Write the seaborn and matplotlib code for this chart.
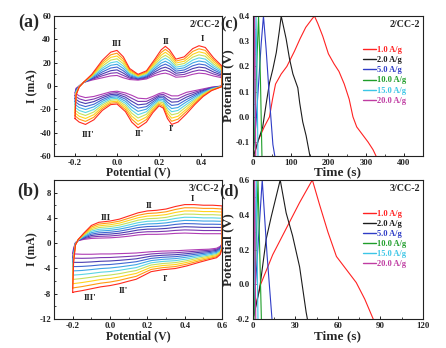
import matplotlib
matplotlib.use("Agg")
import matplotlib.pyplot as plt
from matplotlib.ticker import MultipleLocator, AutoMinorLocator
import numpy as np
import pandas as pd
import seaborn as sns

# ---------------------------------------------------------------------------
# CV data, panel (a) 2/CC-2 : 10 scan rates, inner (purple) -> outer (red)
# ---------------------------------------------------------------------------
a_E_fwd = [-0.2, -0.195, -0.18, -0.16, -0.12, -0.07, -0.03, 0.0, 0.03, 0.06, 0.1,
           0.14, 0.18, 0.21, 0.23, 0.25, 0.28, 0.32, 0.36, 0.39, 0.42, 0.46, 0.5]
a_I_fwd = [
    [-6, -2, 0, 3, 5, 7, 8.6, 9, 7, 5.5, 5, 6, 9, 10.5, 11, 10, 7.5, 8, 10, 11, 10.5, 8.5, 7],
    [-8.4, -2.7, -0.1, 3, 5.6, 8.7, 10.9, 11.4, 9, 6.6, 5.6, 6.8, 10.6, 12.8, 13.6, 12.3, 9.2, 9.9, 12.4, 13.6, 13, 10.2, 8.1],
    [-10.9, -3.3, -0.2, 3, 6.1, 10.3, 13.1, 13.8, 11, 7.6, 6.1, 7.6, 12.1, 15.1, 16.1, 14.7, 10.9, 11.8, 14.9, 16.2, 15.5, 11.9, 9.2],
    [-13.3, -4, -0.3, 3, 6.7, 12, 15.4, 16.2, 13, 8.7, 6.7, 8.3, 13.7, 17.3, 18.7, 17, 12.7, 13.7, 17.3, 18.8, 18, 13.7, 10.3],
    [-15.8, -4.7, -0.4, 3, 7.2, 13.7, 17.7, 18.6, 15, 9.7, 7.2, 9.1, 15.2, 19.6, 21.2, 19.3, 14.4, 15.6, 19.8, 21.4, 20.5, 15.4, 11.4],
    [-18.2, -5.3, -0.6, 3, 7.8, 15.3, 19.9, 20.9, 17, 10.8, 7.8, 9.9, 16.8, 21.9, 23.8, 21.7, 16.1, 17.4, 22.2, 24.1, 23, 17.1, 12.6],
    [-20.7, -6, -0.7, 3, 8.3, 17, 22.2, 23.3, 19, 11.8, 8.3, 10.7, 18.3, 24.2, 26.3, 24, 17.8, 19.3, 24.7, 26.7, 25.5, 18.8, 13.7],
    [-23.1, -6.7, -0.8, 3, 8.9, 18.7, 24.5, 25.7, 21, 12.9, 8.9, 11.4, 19.9, 26.4, 28.9, 26.3, 19.6, 21.2, 27.1, 29.3, 28, 20.6, 14.8],
    [-25.6, -7.3, -0.9, 3, 9.4, 20.3, 26.7, 28.1, 23, 13.9, 9.4, 12.2, 21.4, 28.7, 31.4, 28.7, 21.3, 23.1, 29.6, 31.9, 30.5, 22.3, 15.9],
    [-28, -8, -1, 3, 10, 22, 29, 30.5, 25, 15, 10, 13, 23, 31, 34, 31, 23, 25, 32, 34.5, 33, 24, 17],
]
a_E_rev = [0.5, 0.45, 0.41, 0.37, 0.33, 0.29, 0.26, 0.24, 0.22, 0.2, 0.17,
           0.14, 0.1, 0.07, 0.04, 0.0, -0.03, -0.07, -0.11, -0.15, -0.18, -0.2]
a_I_rev = [
    [0, -1, -2.5, -4, -5.5, -8.5, -8.5, -7, -5.7, -6.5, -9, -11, -10.5, -8, -6, -4.5, -5, -7, -9, -10, -8.5, -6],
    [-0.1, -1.3, -3.2, -5.3, -7.6, -11, -11.2, -9.3, -7.2, -7.7, -10.6, -13.2, -13.3, -10.6, -7.8, -5.7, -6.2, -8.6, -11.2, -12.6, -11, -8.4],
    [-0.1, -1.7, -3.9, -6.7, -9.6, -13.5, -13.9, -11.7, -8.7, -8.8, -12.1, -15.4, -16.2, -13.1, -9.6, -7, -7.4, -10.1, -13.4, -15.1, -13.5, -10.9],
    [-0.2, -2, -4.7, -8, -11.7, -16, -16.7, -14, -10.1, -10, -13.7, -17.7, -19, -15.7, -11.3, -8.2, -8.7, -11.7, -15.7, -17.7, -16, -13.3],
    [-0.2, -2.3, -5.4, -9.3, -13.7, -18.5, -19.4, -16.3, -11.6, -11.2, -15.2, -19.9, -21.8, -18.2, -13.1, -9.4, -9.9, -13.2, -17.9, -20.2, -18.5, -15.8],
    [-0.3, -2.7, -6.1, -10.7, -15.8, -21, -22.1, -18.7, -13.1, -12.3, -16.8, -22.1, -24.7, -20.8, -14.9, -10.6, -11.1, -14.8, -20.1, -22.8, -21, -18.2],
    [-0.3, -3, -6.8, -12, -17.8, -23.5, -24.8, -21, -14.6, -13.5, -18.3, -24.3, -27.5, -23.3, -16.7, -11.8, -12.3, -16.3, -22.3, -25.3, -23.5, -20.7],
    [-0.4, -3.3, -7.6, -13.3, -19.9, -26, -27.6, -23.3, -16, -14.7, -19.9, -26.6, -30.3, -25.9, -18.4, -13.1, -13.6, -17.9, -24.6, -27.9, -26, -23.1],
    [-0.4, -3.7, -8.3, -14.7, -21.9, -28.5, -30.3, -25.7, -17.5, -15.8, -21.4, -28.8, -33.2, -28.4, -20.2, -14.3, -14.8, -19.4, -26.8, -30.4, -28.5, -25.6],
    [-0.5, -4, -9, -16, -24, -31, -33, -28, -19, -17, -23, -31, -36, -31, -22, -15.5, -16, -21, -29, -33, -31, -28],
]

# ---------------------------------------------------------------------------
# CV data, panel (b) 3/CC-2
# ---------------------------------------------------------------------------
b_E_fwd = [-0.2, -0.195, -0.185, -0.17, -0.14, -0.1, -0.06, 0.0, 0.05, 0.1,
           0.15, 0.2, 0.25, 0.3, 0.35, 0.4, 0.45, 0.5, 0.55, 0.6]
b_I_fwd = [
    [-1.6, -0.8, 0.1, 0.4, 0.6, 0.75, 0.8, 0.85, 0.95, 1.1, 1.3, 1.4, 1.4, 1.45, 1.55, 1.6, 1.55, 1.5, 1.5, 1.5],
    [-2.3, -1.0, 0.06, 0.42, 0.71, 0.98, 1.08, 1.14, 1.27, 1.46, 1.69, 1.81, 1.82, 1.89, 2.02, 2.1, 2.06, 2.0, 2.0, 1.99],
    [-3.0, -1.3, 0.01, 0.44, 0.82, 1.21, 1.36, 1.44, 1.58, 1.81, 2.08, 2.22, 2.24, 2.33, 2.49, 2.6, 2.56, 2.5, 2.5, 2.48],
    [-3.7, -1.5, -0.03, 0.47, 0.93, 1.43, 1.63, 1.73, 1.9, 2.17, 2.47, 2.63, 2.67, 2.77, 2.97, 3.1, 3.07, 3.0, 3.0, 2.97],
    [-4.4, -1.8, -0.08, 0.49, 1.04, 1.66, 1.91, 2.03, 2.22, 2.52, 2.86, 3.04, 3.09, 3.21, 3.44, 3.6, 3.57, 3.5, 3.5, 3.46],
    [-5.0, -2.0, -0.12, 0.51, 1.16, 1.89, 2.19, 2.32, 2.53, 2.88, 3.24, 3.46, 3.51, 3.64, 3.91, 4.1, 4.08, 4.0, 4.0, 3.94],
    [-5.7, -2.3, -0.17, 0.53, 1.27, 2.12, 2.47, 2.62, 2.85, 3.23, 3.63, 3.87, 3.93, 4.08, 4.38, 4.6, 4.58, 4.5, 4.5, 4.43],
    [-6.4, -2.5, -0.21, 0.56, 1.38, 2.34, 2.74, 2.91, 3.17, 3.59, 4.02, 4.28, 4.36, 4.52, 4.86, 5.1, 5.09, 5.0, 5.0, 4.92],
    [-7.1, -2.8, -0.26, 0.58, 1.49, 2.57, 3.02, 3.21, 3.48, 3.94, 4.41, 4.69, 4.78, 4.96, 5.33, 5.6, 5.59, 5.5, 5.5, 5.41],
    [-7.8, -3.0, -0.3, 0.6, 1.6, 2.8, 3.3, 3.5, 3.8, 4.3, 4.8, 5.1, 5.2, 5.4, 5.8, 6.1, 6.1, 6.0, 6.0, 5.9],
]
b_E_rev = [0.6, 0.59, 0.57, 0.53, 0.48, 0.41, 0.35, 0.28, 0.22, 0.18, 0.14,
           0.1, 0.05, 0.0, -0.05, -0.1, -0.15, -0.19, -0.2]
b_I_rev = [
    [-0.1, -0.5, -0.8, -0.95, -1.0, -1.1, -1.2, -1.25, -1.35, -1.45, -1.55, -1.6, -1.65, -1.7, -1.7, -1.75, -1.75, -1.7, -1.6],
    [-0.18, -0.64, -0.97, -1.13, -1.22, -1.38, -1.51, -1.58, -1.7, -1.86, -2.01, -2.09, -2.18, -2.26, -2.28, -2.36, -2.39, -2.37, -2.29],
    [-0.26, -0.79, -1.13, -1.32, -1.44, -1.66, -1.82, -1.91, -2.05, -2.26, -2.47, -2.58, -2.71, -2.81, -2.86, -2.96, -3.03, -3.03, -2.98],
    [-0.33, -0.93, -1.3, -1.5, -1.67, -1.93, -2.13, -2.23, -2.4, -2.67, -2.93, -3.07, -3.23, -3.37, -3.43, -3.57, -3.67, -3.7, -3.67],
    [-0.41, -1.08, -1.47, -1.68, -1.89, -2.21, -2.44, -2.56, -2.75, -3.07, -3.39, -3.56, -3.76, -3.92, -4.01, -4.17, -4.31, -4.37, -4.36],
    [-0.49, -1.22, -1.63, -1.87, -2.11, -2.49, -2.76, -2.89, -3.1, -3.48, -3.86, -4.04, -4.29, -4.48, -4.59, -4.78, -4.94, -5.03, -5.04],
    [-0.57, -1.37, -1.8, -2.05, -2.33, -2.77, -3.07, -3.22, -3.45, -3.88, -4.32, -4.53, -4.82, -5.03, -5.17, -5.38, -5.58, -5.7, -5.73],
    [-0.64, -1.51, -1.97, -2.23, -2.56, -3.04, -3.38, -3.54, -3.8, -4.29, -4.78, -5.02, -5.34, -5.59, -5.74, -5.99, -6.22, -6.37, -6.42],
    [-0.72, -1.66, -2.13, -2.42, -2.78, -3.32, -3.69, -3.87, -4.15, -4.69, -5.24, -5.51, -5.87, -6.14, -6.32, -6.59, -6.86, -7.03, -7.11],
    [-0.8, -1.8, -2.3, -2.6, -3.0, -3.6, -4.0, -4.2, -4.5, -5.1, -5.7, -6.0, -6.4, -6.7, -6.9, -7.2, -7.5, -7.7, -7.8],
]

# inner (slowest scan) -> outer (fastest scan)
cv_colors = ['#b03cb4', '#7c38b0', '#4a3cb0', '#3f68d2', '#3fa6e6',
             '#5cd6e2', '#c6e05a', '#ffd41c', '#ff9a12', '#ff2a1e']

# ---------------------------------------------------------------------------
# GCD data, panels (c) and (d)
# ---------------------------------------------------------------------------
rates = ['1.0 A/g', '2.0 A/g', '5.0 A/g', '10.0 A/g', '15.0 A/g', '20.0 A/g']
gcd_colors = ['#ff2222', '#1c1c1c', '#2f3cc6', '#1f9e2a', '#3cc6e6', '#c03ca2']

c_time = {
    '1.0 A/g': [2, 15, 30, 44, 52, 60, 75, 90, 110, 125, 140, 155, 163, 172, 185,
                200, 215, 228, 242, 255, 265, 275, 290, 305, 318, 326],
    '2.0 A/g': [2, 13, 26, 35, 44, 53, 62, 70, 75, 88, 97, 106, 119, 124, 132, 141, 151],
    '5.0 A/g': [0, 8, 15, 22, 28, 35, 44, 53, 58],
    '10.0 A/g': [2, 9, 15, 20, 24],
    '15.0 A/g': [1, 5, 8.5, 11, 13.5],
    '20.0 A/g': [0.5, 2.5, 4.5, 6, 7.5],
}
c_volt = {
    '1.0 A/g': [-0.155, -0.09, -0.04, 0.0, 0.07, 0.13, 0.17, 0.2, 0.26, 0.31, 0.355,
                0.385, 0.4, 0.37, 0.32, 0.25, 0.21, 0.18, 0.13, 0.07, 0.0, -0.04,
                -0.07, -0.1, -0.13, -0.155],
    '2.0 A/g': [-0.155, -0.1, -0.04, 0.05, 0.135, 0.19, 0.255, 0.34, 0.4, 0.31, 0.23,
                0.17, 0.115, 0.055, -0.02, -0.075, -0.155],
    '5.0 A/g': [-0.155, -0.03, 0.13, 0.29, 0.4, 0.27, 0.07, -0.11, -0.155],
    '10.0 A/g': [-0.155, 0.15, 0.4, 0.15, -0.155],
    '15.0 A/g': [-0.155, 0.15, 0.4, 0.15, -0.155],
    '20.0 A/g': [-0.155, 0.15, 0.4, 0.15, -0.155],
}

d_time = {
    '1.0 A/g': [0, 5, 14, 23.5, 33, 42, 47, 53, 59, 66, 73, 79, 85],
    '2.0 A/g': [0, 1.2, 4.7, 9.4, 13, 19.3, 23.5, 28, 33, 37.6, 38.5],
    '5.0 A/g': [0.3, 6.6, 10, 13.5],
    '10.0 A/g': [0.8, 3.6, 6],
    '15.0 A/g': [0.4, 2.4, 3.6],
    '20.0 A/g': [0.1, 1.2, 2.0],
}
d_volt = {
    '1.0 A/g': [-0.2, -0.01, 0.17, 0.32, 0.47, 0.6, 0.46, 0.3, 0.16, 0.085, 0.01, -0.085, -0.2],
    '2.0 A/g': [-0.2, -0.16, -0.03, 0.26, 0.39, 0.6, 0.41, 0.28, 0.1, -0.16, -0.2],
    '5.0 A/g': [-0.2, 0.6, 0.17, -0.2],
    '10.0 A/g': [-0.2, 0.6, -0.2],
    '15.0 A/g': [-0.2, 0.6, -0.2],
    '20.0 A/g': [-0.2, 0.6, -0.2],
}

# ---------------------------------------------------------------------------
sns.set_theme(style='ticks')
plt.rcParams['font.family'] = ['Liberation Serif', 'DejaVu Serif']
plt.rcParams['font.weight'] = 'bold'
plt.rcParams['axes.labelweight'] = 'bold'
plt.rcParams['axes.unicode_minus'] = False
plt.rcParams['axes.linewidth'] = 0.8

BOLD = dict(fontweight='bold')


def cv_frame(E_fwd, I_fwd, E_rev, I_rev):
    rows = []
    for k, (f, r) in enumerate(zip(I_fwd, I_rev)):
        for e, i in zip(E_fwd + E_rev, f + r):
            rows.append((f's{k}', e, i))
    return pd.DataFrame(rows, columns=['scan', 'E', 'I'])


def gcd_frame(times, volts):
    rows = []
    for r in rates:
        for t, v in zip(times[r], volts[r]):
            rows.append((r, t, v))
    return pd.DataFrame(rows, columns=['rate', 't', 'V'])


def style_axes(ax):
    ax.tick_params(direction='in', length=2.5, width=0.7, labelsize=6.3, pad=2,
                   colors='#222222')
    ax.tick_params(which='minor', direction='in', length=1.5, width=0.6)
    for s in ax.spines.values():
        s.set_color('#222222')
    for lab in ax.get_xticklabels() + ax.get_yticklabels():
        lab.set_fontweight('bold')


fig = plt.figure(figsize=(4.46, 3.48), dpi=100)
ax_a = fig.add_axes([0.121, 0.552, 0.377, 0.402])
ax_c = fig.add_axes([0.567, 0.552, 0.381, 0.402])
ax_b = fig.add_axes([0.121, 0.083, 0.377, 0.4])
ax_d = fig.add_axes([0.567, 0.083, 0.381, 0.4])

# ---- CV panels ----
for ax, data, lim, ticks, labels, name in [
    (ax_a, cv_frame(a_E_fwd, a_I_fwd, a_E_rev, a_I_rev), (-60, 60), 20,
     [('III', 0.0, 36), ('II', 0.235, 38), ('I', 0.405, 40),
      ("III'", -0.136, -42), ("II'", 0.104, -41), ("I'", 0.26, -37)],
     '2/CC-2'),
    (ax_b, cv_frame(b_E_fwd, b_I_fwd, b_E_rev, b_I_rev), (-12, 10), 4,
     [('III', -0.02, 4.0), ('II', 0.21, 5.8), ('I', 0.44, 7.0),
      ("III'", -0.107, -8.6), ("II'", 0.071, -7.5), ("I'", 0.3, -5.6)],
     '3/CC-2'),
]:
    sns.lineplot(data=data, x='E', y='I', hue='scan', palette=cv_colors,
                 sort=False, estimator=None, legend=False, lw=0.8, ax=ax)
    ax.set_ylim(*lim)
    ax.yaxis.set_major_locator(MultipleLocator(ticks))
    ax.xaxis.set_major_locator(MultipleLocator(0.2))
    ax.xaxis.set_minor_locator(AutoMinorLocator(2))
    ax.yaxis.set_minor_locator(AutoMinorLocator(2))
    ax.set_xlabel('Potential (V)', fontsize=8.5, labelpad=0)
    ax.set_ylabel('I (mA)', fontsize=8.5, labelpad=1)
    for txt, x, y in labels:
        ax.text(x, y, txt, fontsize=6.5, ha='center', va='center', **BOLD)
    ax.text(0.985, 0.94, name, transform=ax.transAxes, fontsize=7.2,
            ha='right', va='center', **BOLD)
    style_axes(ax)

ax_a.set_xlim(-0.3, 0.5)
ax_b.set_xlim(-0.3, 0.6)
fig.text(0.064, 0.937, '(a)', fontsize=13, ha='center', va='center', **BOLD)
fig.text(0.064, 0.45, '(b)', fontsize=13, ha='center', va='center', **BOLD)

# ---- GCD panels ----
for ax, data, xlim, xstep, ylim, ystep, name, tag, tagpos in [
    (ax_c, gcd_frame(c_time, c_volt), (0, 450), 100, (-0.155, 0.4), 0.1,
     '2/CC-2', '(c)', (0.514, 0.93)),
    (ax_d, gcd_frame(d_time, d_volt), (0, 120), 30, (-0.2, 0.6), 0.2,
     '3/CC-2', '(d)', (0.514, 0.45)),
]:
    sns.lineplot(data=data, x='t', y='V', hue='rate', hue_order=rates,
                 palette=gcd_colors, sort=False, estimator=None, lw=0.8, ax=ax)
    ax.set_xlim(*xlim)
    ax.set_ylim(*ylim)
    ax.xaxis.set_major_locator(MultipleLocator(xstep))
    ax.yaxis.set_major_locator(MultipleLocator(ystep))
    ax.xaxis.set_minor_locator(AutoMinorLocator(2))
    ax.yaxis.set_minor_locator(AutoMinorLocator(2))
    ax.set_xlabel('Time (s)', fontsize=9.5, labelpad=0)
    ax.set_ylabel('Potential (V)', fontsize=9.5, labelpad=1)
    ax.text(0.985, 0.94, name, transform=ax.transAxes, fontsize=7.2,
            ha='right', va='center', **BOLD)
    leg = ax.legend(loc='upper right', bbox_to_anchor=(0.93, 0.82), frameon=False,
                    handlelength=1.6, handletextpad=0.1,
                    labelspacing=0.25, borderpad=0.1, labelcolor='linecolor',
                    prop=dict(weight='bold', size=6))
    for line in leg.get_lines():
        line.set_linewidth(1.0)
    style_axes(ax)
    fig.text(*tagpos, tag, fontsize=11.5, ha='center', va='center', **BOLD)

fig.savefig('out.png', dpi=100)
